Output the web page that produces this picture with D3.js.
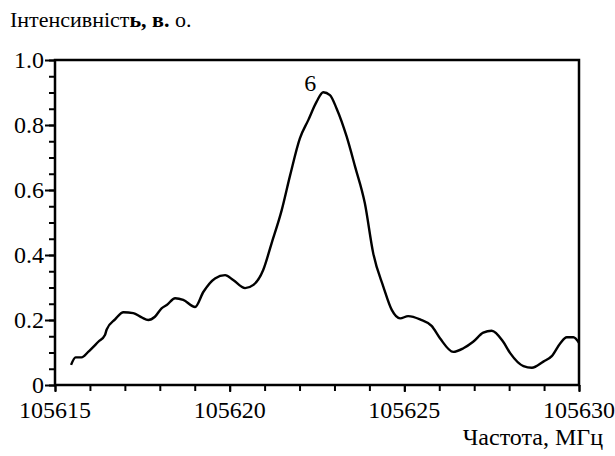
<!DOCTYPE html>
<html><head><meta charset="utf-8">
<script src="https://cdn.jsdelivr.net/npm/d3@7"></script>
</head><body style="margin:0">
<script>
const freq = [105615.46,105615.59,105615.76,105615.95,105616.24,105616.43,105616.48,105616.72,105616.96,105617.24,105617.48,105617.67,105617.86,105618.05,105618.20,105618.44,105618.67,105619.01,105619.25,105619.58,105619.87,105620.10,105620.44,105620.68,105620.96,105621.20,105621.49,105621.73,105622.01,105622.25,105622.49,105622.68,105622.87,105623.06,105623.35,105623.59,105623.87,105624.11,105624.40,105624.64,105624.88,105625.11,105625.45,105625.78,105626.02,105626.40,105626.69,105626.97,105627.26,105627.50,105627.83,105628.03,105628.41,105628.65,105628.98,105629.22,105629.46,105629.65,105629.84,105630.00];
const intensity = [0.062,0.085,0.085,0.102,0.133,0.154,0.171,0.202,0.224,0.221,0.208,0.200,0.210,0.236,0.246,0.267,0.262,0.240,0.287,0.328,0.338,0.323,0.298,0.308,0.354,0.436,0.538,0.645,0.759,0.815,0.872,0.901,0.892,0.851,0.764,0.672,0.559,0.405,0.302,0.231,0.205,0.212,0.202,0.182,0.144,0.102,0.113,0.133,0.161,0.167,0.133,0.098,0.058,0.053,0.072,0.089,0.128,0.147,0.147,0.130];
const xTicks = [105615,105620,105625,105630];
const yTicks = [0,0.2,0.4,0.6,0.8,1.0];
const yTickLabels = ["0","0.2","0.4","0.6","0.8","1.0"];
const peakLabel = "6";
const yTitle = ["Інтенсивніст","ь,"," в."," о."];
const xTitle = "Частота, МГц";

const FONT = "Liberation Serif";
const svg = d3.select("body").append("svg").attr("width",615).attr("height",456)
  .style("display","block").style("font-family",FONT);
const L=55,R=579,T=60,B=385;
const x = d3.scaleLinear().domain([105615,105630]).range([L,R]);
const y = d3.scaleLinear().domain([0,1]).range([B,T]);
const fs = 24;

const styleLines = g=>g.selectAll("line").attr("stroke","#000").attr("stroke-width",2);

const xMinor = d3.range(105615,105631,1);
const yMinor = d3.range(0,1.0001,0.05);
svg.append("g").attr("transform",`translate(0,${B})`)
  .call(d3.axisBottom(x).tickValues(xMinor).tickSize(6).tickFormat(""))
  .call(g=>g.select(".domain").remove()).call(styleLines);
svg.append("g").attr("transform",`translate(${L},0)`)
  .call(d3.axisLeft(y).tickValues(yMinor).tickSize(6).tickFormat(""))
  .call(g=>g.select(".domain").remove()).call(styleLines);
svg.append("g").attr("transform",`translate(0,${B})`)
  .call(d3.axisBottom(x).tickValues(xTicks).tickSize(7).tickFormat(""))
  .call(g=>g.select(".domain").remove()).call(styleLines);
svg.append("g").attr("transform",`translate(${L},0)`)
  .call(d3.axisLeft(y).tickValues(yTicks).tickSize(10).tickFormat(""))
  .call(g=>g.select(".domain").remove()).call(styleLines);

function txt(sel){ return sel.attr("font-family",FONT).style("font-family",FONT); }

txt(svg.append("g").selectAll("text").data(xTicks).join("text")
  .attr("x",d=>x(d)).attr("y",B+33).attr("text-anchor","middle")
  .attr("font-size",fs).text(d=>d3.format("d")(d)));
txt(svg.append("g").selectAll("text").data(yTicks).join("text")
  .attr("x",L-11).attr("y",d=>y(d)+8).attr("text-anchor","end")
  .attr("font-size",fs).text((d,i)=>yTickLabels[i]));

svg.append("rect").attr("x",L).attr("y",T).attr("width",R-L).attr("height",B-T)
  .attr("fill","none").attr("stroke","#000").attr("stroke-width",2.5);

const pts = freq.map((f,i)=>[f,intensity[i]]);
svg.append("path").datum(pts)
  .attr("d",d3.line().x(d=>x(d[0])).y(d=>y(d[1])).curve(d3.curveMonotoneX))
  .attr("fill","none").attr("stroke","#000").attr("stroke-width",2.4).attr("stroke-linejoin","round");

const pi = d3.maxIndex(intensity);
txt(svg.append("text").attr("x",x(freq[pi])-13).attr("y",y(intensity[pi])-1)
  .attr("text-anchor","middle").attr("font-size",fs).text(peakLabel));

const yt = txt(svg.append("text").attr("x",10).attr("y",27).attr("font-size",22));
yTitle.forEach((s,i)=>yt.append("tspan").attr("font-weight",(i===1||i===2)?"bold":"normal").text(s));
txt(svg.append("text").attr("x",603).attr("y",445).attr("text-anchor","end")
  .attr("font-size",fs).text(xTitle));
</script></body></html>
